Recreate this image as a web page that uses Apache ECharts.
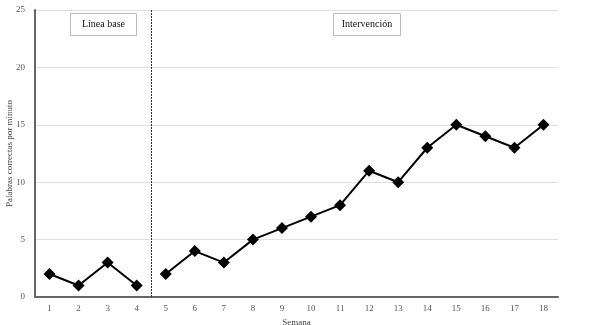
<!DOCTYPE html>
<html>
<head>
<meta charset="utf-8">
<script src="https://cdn.jsdelivr.net/npm/echarts@6/dist/echarts.min.js"></script>
<style>
  html, body { margin: 0; padding: 0; background: #fff; }
  #chart { width: 593px; height: 325px; }
</style>
</head>
<body>
<div id="chart"></div>
<script>
var semanas = ['1','2','3','4','5','6','7','8','9','10','11','12','13','14','15','16','17','18'];
var lineaBase = [2, 1, 3, 1];
var intervencion = [2, 4, 3, 5, 6, 7, 8, 11, 10, 13, 15, 14, 13, 15];
var cambioFase = 4;

var baseData = semanas.map(function (s, i) { return i < lineaBase.length ? lineaBase[i] : '-'; });
var intData = semanas.map(function (s, i) { return i >= lineaBase.length ? intervencion[i - lineaBase.length] : '-'; });

var serif = 'Liberation Serif';
var chart = echarts.init(document.getElementById('chart'));

var option = {
  animation: false,
  backgroundColor: '#fff',
  grid: { left: 35, right: 35, top: 10, bottom: 28, containLabel: false, outerBoundsMode: 'none' },
  xAxis: [
    {
      type: 'category',
      data: semanas,
      boundaryGap: true,
      name: 'Semana',
      nameLocation: 'middle',
      nameGap: 14,
      nameTextStyle: { fontFamily: serif, fontSize: 9, color: '#444' },
      axisLine: { lineStyle: { color: '#666', width: 2 } },
      axisTick: { show: false },
      axisLabel: { fontFamily: serif, fontSize: 9, color: '#555', margin: 7 }
    },
    {
      type: 'value',
      min: 0,
      max: 18,
      show: false
    }
  ],
  yAxis: {
    type: 'value',
    min: 0,
    max: 25,
    interval: 5,
    name: 'Palabras correctas por minuto',
    nameLocation: 'middle',
    nameGap: 21,
    nameMoveOverlap: false,
    nameTextStyle: { fontFamily: serif, fontSize: 9, color: '#444' },
    axisLine: { show: true, lineStyle: { color: '#666', width: 2 } },
    axisTick: { show: false },
    axisLabel: { fontFamily: serif, fontSize: 9, color: '#555', margin: 10 },
    splitLine: { lineStyle: { color: '#e0e0e0', width: 1 } }
  },
  series: [
    {
      name: 'Línea base',
      type: 'line',
      data: baseData,
      symbol: 'diamond',
      symbolSize: 12,
      lineStyle: { color: '#000', width: 2 },
      itemStyle: { color: '#000' }
    },
    {
      name: 'Intervención',
      type: 'line',
      data: intData,
      symbol: 'diamond',
      symbolSize: 12,
      lineStyle: { color: '#000', width: 2 },
      itemStyle: { color: '#000' }
    },
    {
      type: 'line',
      xAxisIndex: 1,
      data: [],
      markLine: {
        silent: true,
        symbol: 'none',
        label: { show: false },
        lineStyle: { color: '#333', type: [2, 1], width: 1 },
        data: [{ xAxis: cambioFase }]
      }
    }
  ],
  graphic: [
    {
      type: 'group',
      left: 70, top: 13,
      children: [
        { type: 'rect', shape: { x: 0, y: 0, width: 66, height: 22 }, style: { fill: '#fff', stroke: '#bbb', lineWidth: 1 } },
        { type: 'text', x: 33, y: 11, style: { text: 'Línea base', fontFamily: serif, fontSize: 10, fill: '#111', align: 'center', verticalAlign: 'middle' } }
      ]
    },
    {
      type: 'group',
      left: 333, top: 13,
      children: [
        { type: 'rect', shape: { x: 0, y: 0, width: 67, height: 22 }, style: { fill: '#fff', stroke: '#bbb', lineWidth: 1 } },
        { type: 'text', x: 33.5, y: 11, style: { text: 'Intervención', fontFamily: serif, fontSize: 10, fill: '#111', align: 'center', verticalAlign: 'middle' } }
      ]
    }
  ]
};
chart.setOption(option);
</script>
</body>
</html>
